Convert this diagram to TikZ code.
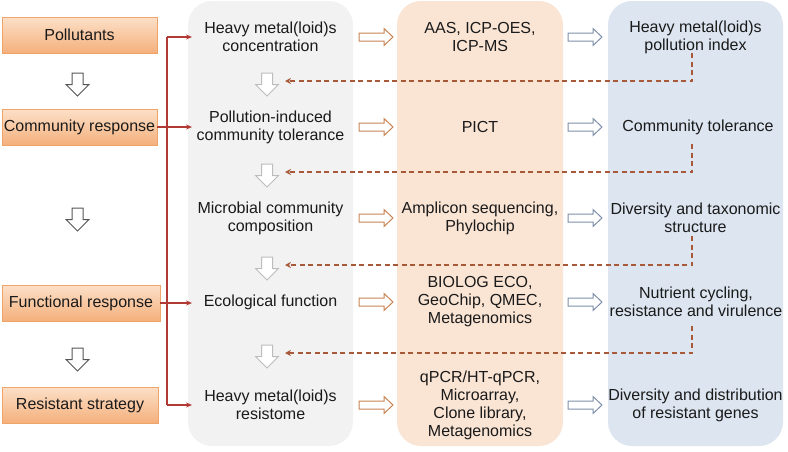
\documentclass[tikz,border=0pt]{standalone}
\usepackage{fontspec}
\setmainfont{Liberation Sans}
\usetikzlibrary{arrows.meta}
\definecolor{colgray}{HTML}{F2F2F2}
\definecolor{colpeach}{HTML}{FAE5D5}
\definecolor{colblue}{HTML}{DCE5F0}
\definecolor{boxtop}{HTML}{FCE0C8}
\definecolor{boxbot}{HTML}{F4B07C}
\definecolor{boxline}{HTML}{EFA56A}
\definecolor{arrOr}{HTML}{C98455}
\definecolor{arrBl}{HTML}{7F90A8}
\definecolor{arrGr}{HTML}{BDBDBD}
\definecolor{arrDk}{HTML}{555555}
\definecolor{redc}{HTML}{B23A35}
\definecolor{dashc}{HTML}{A8593A}
\definecolor{txtc}{HTML}{1A1A1A}
\tikzset{
  lbox/.style={draw=boxline, line width=0.7pt, top color=boxtop, bottom color=boxbot,
    minimum height=36pt, inner sep=0pt, text=txtc, font=\fontsize{16}{18}\selectfont},
  txt/.style={align=center, text=txtc, inner sep=0pt, font=\fontsize{16}{18}\selectfont},
  redarr/.style={draw=redc, line width=1.2pt, -{Stealth[length=6pt,width=5pt]}},
  redline/.style={draw=redc, line width=1.2pt},
  dasharr/.style={draw=dashc, line width=1.3pt, dash pattern=on 5pt off 3.5pt, -{Stealth[length=6pt,width=6pt]}},
  pics/harrR/.style={code={\filldraw[fill=white, draw=#1, line width=1pt]
    (-17,-4)--(8,-4)--(8,-8.5)--(17,0)--(8,8.5)--(8,4)--(-17,4)--cycle;}},
  pics/harrD/.style={code={\filldraw[fill=white, draw=#1, line width=1pt]
    (-5.5,-11.5)--(5.5,-11.5)--(5.5,0)--(11.5,0)--(0,11.5)--(-11.5,0)--(-5.5,0)--cycle;}}
}
\begin{document}
\begin{tikzpicture}[x=1pt, y=-1pt]
\useasboundingbox (0,0) rectangle (788,451);
% columns
\fill[colgray, rounded corners=24pt] (188,1) rectangle (353,446);
\fill[colpeach, rounded corners=24pt] (397,1) rectangle (563,446);
\fill[colblue, rounded corners=24pt] (608,1) rectangle (783,446);

% left boxes
\node[lbox, minimum width=155pt] (p1) at (79.5,35) {Pollutants};
\node[lbox, minimum width=155pt] (p2) at (79.5,127) {Community response};
\node[lbox, minimum width=158pt] (p3) at (81,303) {Functional response};
\node[lbox, minimum width=156pt] (p4) at (80,405) {Resistant strategy};

% left down arrows
\pic at (77.5,84.5) {harrD=arrDk};
\pic at (77.5,219.5) {harrD=arrDk};
\pic at (77.5,359.5) {harrD=arrDk};

% texts
\node[txt] (g1) at (270.5,37) {Heavy metal(loid)s\\concentration};
\node[txt] (g2) at (270.5,127) {Pollution-induced\\community tolerance};
\node[txt] (g3) at (270.5,218) {Microbial community\\composition};
\node[txt] (g4) at (270.5,302) {Ecological function};
\node[txt] (g5) at (270.5,405) {Heavy metal(loid)s\\resistome};

\node[txt] (m1) at (480,37) {AAS, ICP-OES,\\ICP-MS};
\node[txt] (m2) at (480,127) {PICT};
\node[txt] (m3) at (480,218) {Amplicon sequencing,\\Phylochip};
\node[txt] (m4) at (480,302) {BIOLOG ECO,\\GeoChip, QMEC,\\Metagenomics};
\node[txt] (m5) at (480,405) {qPCR/HT-qPCR,\\Microarray,\\Clone library,\\Metagenomics};

\node[txt] (r1) at (695.5,37) {Heavy metal(loid)s\\pollution index};
\node[txt] (r2) at (698,127) {Community tolerance};
\node[txt] (r3) at (695.5,218) {Diversity and taxonomic\\structure};
\node[txt] (r4) at (696,302) {Nutrient cycling,\\resistance and virulence};
\node[txt] (r5) at (695.5,405) {Diversity and distribution\\of resistant genes};

% hollow right arrows
\foreach \y in {37,127,218,302,405}{
  \pic at (376,\y) {harrR=arrOr};
  \pic at (585,\y) {harrR=arrBl};
}

% gray down arrows
\pic at (267,84.5) {harrD=arrGr};
\pic at (267,175.5) {harrD=arrGr};
\pic at (267,268.5) {harrD=arrGr};
\pic at (267,356.5) {harrD=arrGr};

% red bracket connectors
\coordinate (rb1) at (167,37);
\coordinate (rb4) at (167,405);
\coordinate (t1) at (192,37);
\coordinate (t2) at (192,127);
\coordinate (t3) at (192,303);
\coordinate (t4) at (192,405);
\draw[redline] (rb1) -- (rb4);
\draw[redarr] (rb1) -- (t1);
\draw[redarr] (p2.east) -- (t2);
\draw[redarr] (p3.east) -- (t3);
\draw[redarr] (rb4) -- (t4);

% dashed feedback connectors
\coordinate (d1s) at (692,53);
\coordinate (d1e) at (285,81);
\coordinate (d2s) at (692,144);
\coordinate (d2e) at (285,172);
\coordinate (d3s) at (692,236);
\coordinate (d3e) at (285,265);
\coordinate (d4s) at (692,326);
\coordinate (d4e) at (285,353);
\draw[dasharr] (d1s) |- (d1e);
\draw[dasharr] (d2s) |- (d2e);
\draw[dasharr] (d3s) |- (d3e);
\draw[dasharr] (d4s) |- (d4e);
\end{tikzpicture}
\end{document}
